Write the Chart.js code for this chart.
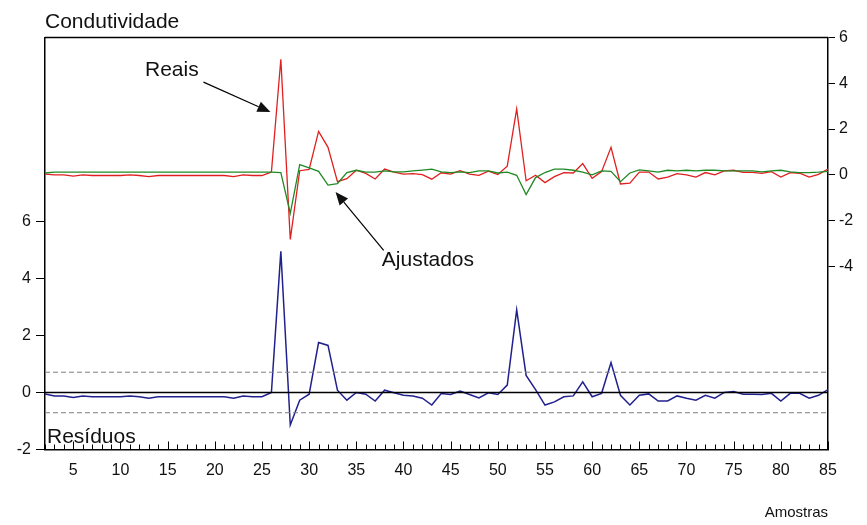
<!DOCTYPE html>
<html>
<head>
<meta charset="utf-8">
<script src="https://cdn.jsdelivr.net/npm/chart.js@4/dist/chart.umd.min.js"></script>
<style>html,body{margin:0;padding:0;background:#fff;}canvas{display:block;}</style>
</head>
<body>
<canvas id="c" width="867" height="525"></canvas>
<script>
// Observations 2..85 (first one lost to the lag)
const firstSample = 2;
const lastSample = 85;
const samples = [];
for (let s = firstSample; s <= lastSample; s++) samples.push(s);

// Condutividade: valores reais (eixo direito)
const reais = [
  0.03, 0.0, 0.0, -0.06, 0.0, -0.03, -0.03, -0.03, -0.03, 0.0, -0.03, -0.08,
  -0.03, -0.03, -0.03, -0.03, -0.03, -0.03, -0.03, -0.03, -0.08, 0.0, -0.03, -0.03,
  0.12, 5.05, -2.82, 0.18, 0.24, 1.9, 1.2, -0.3, -0.17, 0.2,
  0.06, -0.18, 0.25, 0.12, 0.03, 0.05, 0.01, -0.19, 0.09, 0.03,
  0.18, 0.03, -0.02, 0.16, 0.01, 0.38, 2.88, -0.26, -0.02, -0.34,
  -0.08, 0.1, 0.08, 0.49, -0.15, 0.14, 1.2, -0.4, -0.36, 0.12,
  0.12, -0.18, -0.1, 0.05, 0.0, -0.1, 0.1, 0.0, 0.17, 0.2,
  0.11, 0.11, 0.06, 0.14, -0.1, 0.1, 0.07, -0.1, 0.02, 0.25
];

// Condutividade: valores ajustados (eixo direito)
const ajustados = [
  0.08, 0.12, 0.12, 0.12, 0.12, 0.12, 0.12, 0.12, 0.12, 0.12, 0.12, 0.12,
  0.12, 0.12, 0.12, 0.12, 0.12, 0.12, 0.12, 0.12, 0.12, 0.12, 0.12, 0.12,
  0.12, 0.1, -1.68, 0.45, 0.3, 0.15, -0.45, -0.38, 0.1, 0.2,
  0.12, 0.12, 0.17, 0.13, 0.13, 0.17, 0.21, 0.25, 0.13, 0.1,
  0.13, 0.1, 0.17, 0.17, 0.08, 0.12, -0.02, -0.86, -0.12, 0.1,
  0.25, 0.25, 0.2, 0.12, 0.0, 0.17, 0.15, -0.3, 0.08, 0.22,
  0.17, 0.12, 0.2, 0.17, 0.2, 0.17, 0.2, 0.2, 0.17, 0.17,
  0.17, 0.17, 0.13, 0.17, 0.2, 0.13, 0.1, 0.1, 0.12, 0.15
];

// Resíduos (eixo esquerdo)
const residuos = [
  -0.05, -0.12, -0.12, -0.18, -0.12, -0.15, -0.15, -0.15, -0.15, -0.12, -0.15, -0.2,
  -0.15, -0.15, -0.15, -0.15, -0.15, -0.15, -0.15, -0.15, -0.2, -0.12, -0.15, -0.15,
  0.0, 4.95, -1.14, -0.27, -0.06, 1.75, 1.65, 0.08, -0.27, 0.0,
  -0.06, -0.3, 0.08, -0.01, -0.1, -0.12, -0.2, -0.44, -0.04, -0.07,
  0.05, -0.07, -0.19, -0.01, -0.07, 0.26, 2.9, 0.6, 0.1, -0.44,
  -0.33, -0.15, -0.12, 0.37, -0.15, -0.03, 1.05, -0.1, -0.44, -0.1,
  -0.05, -0.3, -0.3, -0.12, -0.2, -0.27, -0.1, -0.2, 0.0, 0.03,
  -0.06, -0.06, -0.07, -0.03, -0.3, -0.03, -0.03, -0.2, -0.1, 0.1
];

// Standard error band around the residuals
const residualBand = 0.71;

// Tick labels
const xTickLabels = [5, 10, 15, 20, 25, 30, 35, 40, 45, 50, 55, 60, 65, 70, 75, 80, 85];
const leftTicks = [-2, 0, 2, 4, 6];
const rightTicks = [-4, -2, 0, 2, 4, 6];

// Callout labels with arrows, placed in sample / right-axis units
const callouts = [
  { text: 'Reais', textAt: [12.6, 4.58], from: [18.8, 4.05], to: [25.9, 2.74] },
  { text: 'Ajustados', textAt: [37.7, -3.75], from: [37.9, -3.3], to: [32.8, -0.75] }
];

const FONT = "'Liberation Sans', Arial, sans-serif";
const toPoints = arr => arr.map((v, i) => ({ x: samples[i], y: v }));
const flat = v => [{ x: firstSample, y: v }, { x: lastSample, y: v }];

const frame = {
  id: 'frame',
  afterDraw(chart) {
    const { ctx, chartArea: a } = chart;
    const xs = chart.scales.x, yr = chart.scales.yR;
    ctx.save();
    ctx.strokeStyle = '#000';
    ctx.lineWidth = 1.5;
    ctx.beginPath();
    ctx.moveTo(a.left, a.top);
    ctx.lineTo(a.right, a.top);
    ctx.stroke();

    // observation ticks along the bottom, inside the plot
    ctx.lineWidth = 1;
    ctx.beginPath();
    for (const s of samples) {
      const x = Math.round(xs.getPixelForValue(s)) + 0.5;
      const len = s % 5 === 0 ? 8 : 5;
      ctx.moveTo(x, a.bottom);
      ctx.lineTo(x, a.bottom - len);
    }
    ctx.stroke();

    ctx.fillStyle = '#111';
    ctx.font = '21px ' + FONT;
    ctx.textAlign = 'left';
    ctx.textBaseline = 'alphabetic';
    ctx.fillText('Condutividade', a.left, 28);
    ctx.fillText('Resíduos', a.left + 2, a.bottom - 7);

    for (const c of callouts) {
      const tx = xs.getPixelForValue(c.textAt[0]);
      const ty = yr.getPixelForValue(c.textAt[1]);
      ctx.textBaseline = 'middle';
      ctx.fillText(c.text, tx, ty);
      const x0 = xs.getPixelForValue(c.from[0]), y0 = yr.getPixelForValue(c.from[1]);
      const x1 = xs.getPixelForValue(c.to[0]), y1 = yr.getPixelForValue(c.to[1]);
      const ang = Math.atan2(y1 - y0, x1 - x0);
      const head = 13, half = 5.5;
      ctx.lineWidth = 1.2;
      ctx.beginPath();
      ctx.moveTo(x0, y0);
      ctx.lineTo(x1 - head * Math.cos(ang), y1 - head * Math.sin(ang));
      ctx.stroke();
      ctx.beginPath();
      ctx.moveTo(x1, y1);
      ctx.lineTo(x1 - head * Math.cos(ang) + half * Math.sin(ang), y1 - head * Math.sin(ang) - half * Math.cos(ang));
      ctx.lineTo(x1 - head * Math.cos(ang) - half * Math.sin(ang), y1 - head * Math.sin(ang) + half * Math.cos(ang));
      ctx.closePath();
      ctx.fill();
    }
    ctx.restore();
  }
};

const line = (label, data, axis, color, width, extra) => Object.assign({
  label, data, yAxisID: axis, borderColor: color, borderWidth: width,
  pointRadius: 0, tension: 0, fill: false
}, extra || {});

new Chart(document.getElementById('c'), {
  type: 'line',
  data: {
    datasets: [
      line('zero', flat(0), 'yL', '#000', 1.3),
      line('+se', flat(residualBand), 'yL', '#808080', 1, { borderDash: [5, 3] }),
      line('-se', flat(-residualBand), 'yL', '#808080', 1, { borderDash: [5, 3] }),
      line('Resíduos', toPoints(residuos), 'yL', '#20208e', 1.5),
      line('Ajustados', toPoints(ajustados), 'yR', '#1f8a24', 1.3),
      line('Reais', toPoints(reais), 'yR', '#e02020', 1.3)
    ]
  },
  options: {
    responsive: false,
    animation: false,
    devicePixelRatio: 1,
    layout: { padding: { top: 37.5, left: 0, right: 0, bottom: 0 } },
    plugins: { legend: { display: false }, tooltip: { enabled: false } },
    scales: {
      x: {
        type: 'linear', min: firstSample, max: lastSample,
        afterBuildTicks: s => { s.ticks = xTickLabels.map(v => ({ value: v })); },
        afterFit: s => { s.height = 75.5; },
        grid: { display: false, drawTicks: false },
        border: { display: true, color: '#000', width: 1.5 },
        ticks: { color: '#111', font: { family: FONT, size: 16 }, padding: 11, maxRotation: 0, autoSkip: false },
        title: { display: true, text: 'Amostras', align: 'end', color: '#111', font: { family: FONT, size: 15 }, padding: { top: 0, bottom: 3 } }
      },
      yL: {
        position: 'left', min: -2, max: 12.45,
        afterBuildTicks: s => { s.ticks = leftTicks.map(v => ({ value: v })); },
        afterFit: s => { s.width = 45; },
        grid: { drawOnChartArea: false, drawTicks: true, tickLength: 9, color: '#000' },
        border: { display: true, color: '#000', width: 1.5 },
        ticks: { color: '#111', font: { family: FONT, size: 16 }, padding: 5 }
      },
      yR: {
        position: 'right', min: -12, max: 6,
        afterBuildTicks: s => { s.ticks = rightTicks.map(v => ({ value: v })); },
        afterFit: s => { s.width = 39; },
        grid: { drawOnChartArea: false, drawTicks: true, tickLength: 7, color: '#000' },
        border: { display: true, color: '#000', width: 1.5 },
        ticks: { color: '#111', font: { family: FONT, size: 16 }, padding: 4 }
      }
    }
  },
  plugins: [frame]
});
</script>
</body>
</html>
